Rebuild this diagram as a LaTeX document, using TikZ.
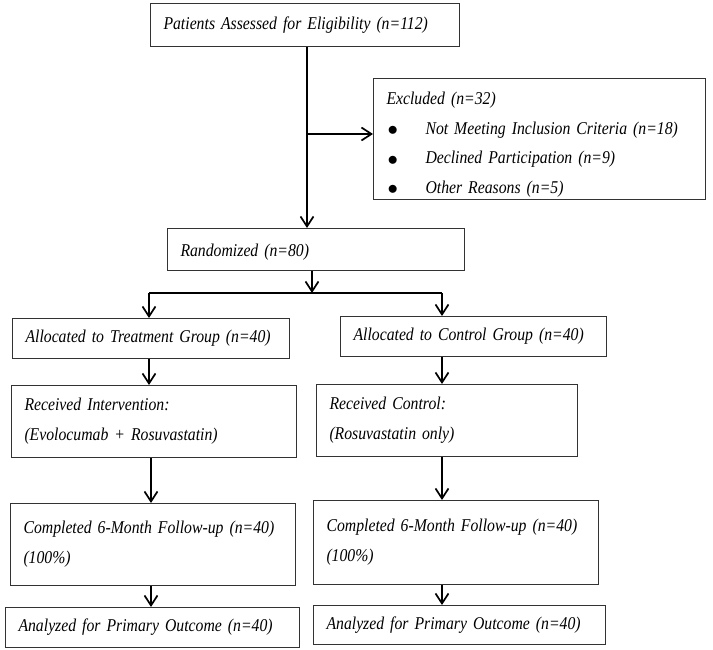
\documentclass[tikz,border=0pt]{standalone}
\usepackage{fontspec}
\setmainfont[FakeStretch=0.875]{Liberation Serif}
\usetikzlibrary{arrows.meta}
\newcommand\blt{\makebox[39pt][l]{\hspace{1pt}\upshape\fontsize{22}{22}\selectfont\raisebox{-1.5pt}{$\bullet$}}}
\begin{document}
\begin{tikzpicture}[x=1pt,y=-1pt,
  box/.style={draw=black!80, line width=1pt, anchor=north west, inner xsep=13pt, inner ysep=0pt,
    align=left, font=\fontsize{18}{30}\selectfont\itshape},
  conn/.style={line width=1.7pt, -{Straight Barb[length=10pt,width=13pt,line width=1.7pt]}},
  plain/.style={line width=1.7pt}]
\useasboundingbox (0,0) rectangle (713,650);
\fill[white] (0,0) rectangle (713,650);
% boxes
\node[box, minimum width=309pt, minimum height=43pt, text width=283pt] (pat) at (150,3)
  {Patients Assessed for Eligibility (n=112)};
\node[box, minimum width=332pt, minimum height=121pt, text width=306pt,
  font=\fontsize{18}{29.5}\selectfont\itshape] (exc) at (373,78)
  {\raisebox{0pt}[24pt][0pt]{}Excluded (n=32)\\
   \mbox{\blt Not Meeting Inclusion Criteria (n=18)}\\
   \mbox{\blt Declined Participation (n=9)}\\
   \mbox{\blt Other Reasons (n=5)}};
\node[box, minimum width=297pt, minimum height=42pt, text width=271pt] (rand) at (167,228)
  {\raisebox{0pt}[18pt][0pt]{}Randomized (n=80)};
\node[box, minimum width=277pt, minimum height=40pt, text width=251pt] (alT) at (12,318)
  {\mbox{Allocated to Treatment Group (n=40)}};
\node[box, minimum width=266pt, minimum height=40pt, text width=240pt] (alC) at (340,316)
  {\mbox{Allocated to Control Group (n=40)}};
\node[box, minimum width=285pt, minimum height=72pt, text width=259pt] (recT) at (11,385)
  {Received Intervention:\\(Evolocumab + Rosuvastatin)};
\node[box, minimum width=261pt, minimum height=72pt, text width=235pt] (recC) at (316,384)
  {Received Control:\\(Rosuvastatin only)};
\node[box, minimum width=285pt, minimum height=82pt, text width=259pt] (comT) at (10,503)
  {\mbox{Completed 6-Month Follow-up (n=40)}\\(100\%)};
\node[box, minimum width=285pt, minimum height=84pt, text width=259pt] (comC) at (313,500)
  {\mbox{Completed 6-Month Follow-up (n=40)}\\(100\%)};
\node[box, minimum width=294pt, minimum height=40pt, text width=268pt] (anT) at (5,607)
  {\mbox{Analyzed for Primary Outcome (n=40)}};
\node[box, minimum width=292pt, minimum height=39pt, text width=266pt] (anC) at (313,605)
  {\mbox{Analyzed for Primary Outcome (n=40)}};
% helper coordinates
\coordinate (xa) at (307,0);
\coordinate (yb) at (0,134);
\coordinate (xr) at (312,0);
\coordinate (ys) at (0,293);
\coordinate (xL) at (149,0);
\coordinate (xR) at (442,0);
\coordinate (xL2) at (151,0);
% connectors
\draw[conn] (pat.south -| xa) -- (rand.north -| xa);
\draw[conn] (xa |- yb) -- (exc.west |- yb);
\draw[conn] (rand.south -| xr) -- (xr |- ys);
\draw[plain] (xL |- ys) -- (xR |- ys);
\draw[conn] (xL |- ys) -- (alT.north -| xL);
\draw[conn] (xR |- ys) -- (alC.north -| xR);
\draw[conn] (alT.south -| xL) -- (recT.north -| xL);
\draw[conn] (alC.south -| xR) -- (recC.north -| xR);
\draw[conn] (recT.south -| xL2) -- (comT.north -| xL2);
\draw[conn] (recC.south -| xR) -- (comC.north -| xR);
\draw[conn] (comT.south -| xL2) -- (anT.north -| xL2);
\draw[conn] (comC.south -| xR) -- (anC.north -| xR);
\end{tikzpicture}
\end{document}
